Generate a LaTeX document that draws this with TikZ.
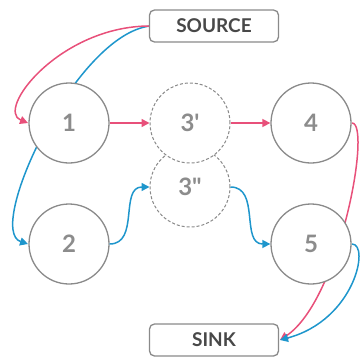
\documentclass[tikz,border=0pt]{standalone}
\usepackage{fontspec}
\setmainfont{Lato}[Ligatures=TeXOff]
\usetikzlibrary{arrows.meta}
\definecolor{flowpink}{HTML}{E8507A}
\definecolor{flowblue}{HTML}{1E96CC}
\definecolor{ringgray}{HTML}{8A8A8A}
\definecolor{numgray}{HTML}{8C8C8C}
\definecolor{labgray}{HTML}{484848}
\tikzset{
  vertex/.style={circle, draw=ringgray, line width=1.3pt, fill=white,
    minimum size=80pt, inner sep=0pt, text=numgray,
    font=\fontsize{24}{24}\selectfont\bfseries},
  ghost/.style={vertex, dash pattern=on 3pt off 2pt, line width=1pt},
  terminal/.style={draw=ringgray, line width=1.3pt, rounded corners=5pt, fill=white,
    minimum width=129pt, minimum height=32pt, inner sep=0pt, text=labgray,
    font=\fontsize{19}{19}\selectfont\bfseries},
  pinkflow/.style={draw=flowpink, line width=1.5pt, -{Triangle[length=8pt,width=8pt]}},
  blueflow/.style={draw=flowblue, line width=1.5pt, -{Triangle[length=8pt,width=8pt]}},
}
\begin{document}
\begin{tikzpicture}[x=1pt,y=-1pt]
\useasboundingbox (0,0) rectangle (361,356);

% long connectors run behind the nodes
\coordinate (srcL) at (150,26);
\coordinate (sinkR) at (280,340);
\draw[blueflow] (srcL) .. controls (75,35) and (-15,230) .. (28,244);
\draw[pinkflow] (srcL) .. controls (60,26) and (-5,110) .. (28,123);
\draw[pinkflow] (352,123) .. controls (372,123) and (340,300) .. (sinkR);
\draw[blueflow] (352,244) .. controls (370,244) and (355,320) .. (sinkR);

% nodes
\node[terminal] (source) at (214,26) {SOURCE};
\node[terminal] (sink) at (214,340) {SINK};
\node[vertex] (n1) at (69,123) {1};
\node[vertex] (n2) at (69,244) {2};
\node[ghost] (n3b) at (190,187) {3"};
\node[ghost] (n3a) at (190,123) {3'};
\node[vertex] (n4) at (311,123) {4};
\node[vertex] (n5) at (311,244) {5};

% short connectors between neighbours
\draw[pinkflow] (n1.east) -- (n3a.west);
\draw[pinkflow] (n3a.east) -- (n4.west);
\draw[blueflow] (n2.east) to[out=0,in=180,looseness=1.1] (n3b.west);
\draw[blueflow] (n3b.east) to[out=0,in=180,looseness=1.1] (n5.west);
\end{tikzpicture}
\end{document}
